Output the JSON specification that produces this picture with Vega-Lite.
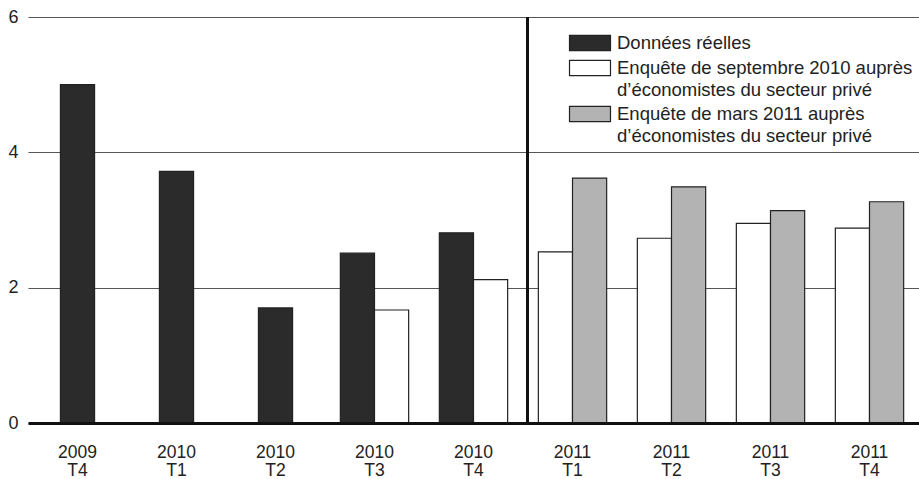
{
  "$schema": "https://vega.github.io/schema/vega-lite/v6.json",
  "width": 891,
  "height": 406,
  "autosize": {"type": "none"},
  "padding": {"left": 28, "top": 17, "right": 0, "bottom": 56},
  "background": "white",
  "config": {
    "view": {"stroke": null},
    "font": "Liberation Sans",
    "axis": {"labelFont": "Liberation Sans", "labelFontSize": 18, "labelColor": "#222"},
    "legend": {"labelFont": "Liberation Sans"}
  },
  "data": {
    "values": [
      {"trimestre": "2009 T4", "serie": "Données réelles", "valeur": 5.0},
      {"trimestre": "2010 T1", "serie": "Données réelles", "valeur": 3.72},
      {"trimestre": "2010 T2", "serie": "Données réelles", "valeur": 1.70},
      {"trimestre": "2010 T3", "serie": "Données réelles", "valeur": 2.51},
      {"trimestre": "2010 T3", "serie": "Enquête de septembre 2010 auprès d’économistes du secteur privé", "valeur": 1.67},
      {"trimestre": "2010 T4", "serie": "Données réelles", "valeur": 2.81},
      {"trimestre": "2010 T4", "serie": "Enquête de septembre 2010 auprès d’économistes du secteur privé", "valeur": 2.12},
      {"trimestre": "2011 T1", "serie": "Enquête de septembre 2010 auprès d’économistes du secteur privé", "valeur": 2.53},
      {"trimestre": "2011 T1", "serie": "Enquête de mars 2011 auprès d’économistes du secteur privé", "valeur": 3.62},
      {"trimestre": "2011 T2", "serie": "Enquête de septembre 2010 auprès d’économistes du secteur privé", "valeur": 2.73},
      {"trimestre": "2011 T2", "serie": "Enquête de mars 2011 auprès d’économistes du secteur privé", "valeur": 3.49},
      {"trimestre": "2011 T3", "serie": "Enquête de septembre 2010 auprès d’économistes du secteur privé", "valeur": 2.95},
      {"trimestre": "2011 T3", "serie": "Enquête de mars 2011 auprès d’économistes du secteur privé", "valeur": 3.14},
      {"trimestre": "2011 T4", "serie": "Enquête de septembre 2010 auprès d’économistes du secteur privé", "valeur": 2.88},
      {"trimestre": "2011 T4", "serie": "Enquête de mars 2011 auprès d’économistes du secteur privé", "valeur": 3.27}
    ]
  },
  "transform": [
    {"window": [{"op": "row_number", "as": "rang"}], "groupby": ["trimestre"]},
    {"joinaggregate": [{"op": "count", "as": "nb"}], "groupby": ["trimestre"]}
  ],
  "encoding": {
    "x": {
      "field": "trimestre",
      "type": "nominal",
      "sort": null,
      "title": null,
      "scale": {"paddingInner": 0.31, "paddingOuter": 0.155},
      "axis": {
        "labelAngle": 0,
        "ticks": false,
        "domain": true,
        "domainColor": "#111",
        "domainWidth": 3,
        "labelFontSize": 17.5,
        "labelPadding": 20,
        "labelLineHeight": 18.5,
        "labelExpr": "split(datum.label, ' ')",
        "zindex": 1
      }
    },
    "y": {
      "field": "valeur",
      "type": "quantitative",
      "title": null,
      "scale": {"domain": [0, 6], "nice": false},
      "axis": {
        "values": [0, 2, 4, 6],
        "ticks": false,
        "domain": false,
        "grid": true,
        "gridColor": "#555",
        "gridWidth": 1.2,
        "labelPadding": 10
      }
    }
  },
  "layer": [
    {
      "transform": [{"filter": "datum.nb == 1"}],
      "mark": {"type": "bar", "width": {"band": 0.5}, "stroke": "#222", "strokeWidth": 1.2},
      "encoding": {
        "color": {
          "field": "serie",
          "type": "nominal",
          "scale": {
            "domain": [
              "Données réelles",
              "Enquête de septembre 2010 auprès d’économistes du secteur privé",
              "Enquête de mars 2011 auprès d’économistes du secteur privé"
            ],
            "range": ["#2b2b2b", "#ffffff", "#b3b3b3"]
          },
          "legend": {
            "title": null,
            "orient": "none",
            "legendX": 551,
            "legendY": 15,
            "padding": 0,
            "symbolType": "M-2,-0.75H2V0.75H-2Z",
            "symbolSize": 420,
            "symbolStrokeColor": "#222",
            "symbolStrokeWidth": 1.2,
            "symbolOpacity": 1,
            "labelFontSize": 18.5,
            "labelColor": "#222",
            "labelLimit": 0,
            "labelOffset": 16,
            "rowPadding": 3,
            "labelExpr": "datum.label == 'Données réelles' ? datum.label : split(replace(datum.label, ' d’', '|d’'), '|')",
            "encode": {
              "labels": {"update": {"lineHeight": {"value": 22}}}
            }
          }
        }
      }
    },
    {
      "transform": [{"filter": "datum.nb == 2"}],
      "mark": {"type": "bar", "stroke": "#222", "strokeWidth": 1.2},
      "encoding": {
        "xOffset": {"field": "rang", "type": "ordinal"},
        "color": {"field": "serie", "type": "nominal"}
      }
    },
    {
      "mark": {"type": "rule", "color": "#111", "strokeWidth": 2},
      "encoding": {
        "x": {"datum": "2011 T1", "bandPosition": -0.16},
        "y": {"datum": 0},
        "y2": {"datum": 6}
      }
    }
  ]
}
